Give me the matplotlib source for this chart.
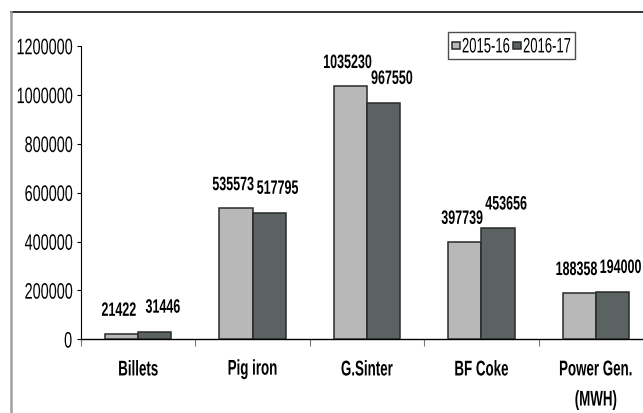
import matplotlib
matplotlib.use("Agg")
import matplotlib.pyplot as plt
import numpy as np
from matplotlib.lines import Line2D
from matplotlib.patches import Rectangle
from matplotlib.patheffects import AbstractPathEffect
from matplotlib.transforms import Affine2D
from matplotlib.container import BarContainer
from matplotlib.legend_handler import HandlerPatch, update_from_first_child

# Production figures
categories = ["Billets", "Pig iron", "G.Sinter", "BF Coke", "Power Gen.\n(MWH)"]
series_names = ["2015-16", "2016-17"]
values_2015_16 = [21422, 535573, 1035230, 397739, 188358]
values_2016_17 = [31446, 517795, 967550, 453656, 194000]
y_ticks = [0, 200000, 400000, 600000, 800000, 1000000, 1200000]

plt.rcParams["font.family"] = ["Liberation Sans", "DejaVu Sans"]


class Tall(AbstractPathEffect):
    """Stretch glyphs vertically about their own centre (condensed look)."""

    def __init__(self, sy):
        super().__init__()
        self.sy = sy

    def draw_path(self, renderer, gc, tpath, affine, rgbFace=None):
        ext = tpath.get_extents(affine)
        cy = 0.5 * (ext.y0 + ext.y1)
        t = affine + Affine2D().translate(0, -cy).scale(1, self.sy).translate(0, cy)
        renderer.draw_path(gc, tpath, t, rgbFace)


TALL = [Tall(1.55)]

W, H = 643, 413
fig = plt.figure(figsize=(W / 100, H / 100), dpi=100)

# chart frame (top and left edges visible)
fig.add_artist(Line2D([11 / W, 1.0], [1 - 12 / H, 1 - 12 / H], transform=fig.transFigure,
                      color="#111111", lw=1.2))
fig.add_artist(Line2D([11 / W, 11 / W], [0, 1 - 12 / H], transform=fig.transFigure,
                      color="#a0a0a0", lw=1.8))

left, right = 81 / W, 653 / W
bottom, top = 1 - 339.3 / H, 1 - 46 / H
ax = fig.add_axes([left, bottom, right - left, top - bottom])

x = np.arange(len(categories))
bw = 0.29
light, dark = "#b8b8b8", "#5a6361"
b1 = ax.bar(x - bw / 2, values_2015_16, bw, color=light, edgecolor="#2a2a2a", lw=1.1,
            label=series_names[0], zorder=3)
b2 = ax.bar(x + bw / 2, values_2016_17, bw, color=dark, edgecolor="#2a2a2a", lw=1.1,
            label=series_names[1], zorder=3)

for xi, v in zip(x, values_2015_16):
    ax.annotate(f"{v}", (xi - bw / 2, v), xytext=(-2, 17), textcoords="offset points",
                ha="center", va="center", fontsize=9, fontweight="bold", path_effects=TALL)
for xi, v in zip(x, values_2016_17):
    ax.annotate(f"{v}", (xi + bw / 2, v), xytext=(6, 17.5), textcoords="offset points",
                ha="center", va="center", fontsize=9, fontweight="bold", path_effects=TALL)

ax.set_xlim(-0.5, len(categories) - 0.5)
ax.set_ylim(0, 1200000)
ax.set_yticks(y_ticks)
ax.set_yticklabels([str(t) for t in y_ticks], fontsize=10.4, path_effects=TALL)
ax.tick_params(axis="y", length=3, width=0.8, pad=3.5, direction="out")

ax.set_xticks(x)
ax.set_xticklabels(categories, fontsize=9.6, fontweight="bold")
ax.tick_params(axis="x", which="major", length=0, pad=17.5)
ax.set_xticks(np.arange(-0.5, len(categories), 1.0), minor=True)
ax.tick_params(axis="x", which="minor", length=5, width=0.8, color="#777777", direction="out")
for lbl in ax.get_xticklabels():
    lbl.set_linespacing(3.1)
    lbl.set_path_effects([Tall(1.6)])

for s in ["top", "right"]:
    ax.spines[s].set_visible(False)
ax.spines["left"].set_linewidth(0.8)
ax.spines["bottom"].set_linewidth(1.0)


def square_handle(legend, orig_handle, xdescent, ydescent, width, height, fontsize):
    s = 0.6 * fontsize
    return Rectangle((-xdescent + (width - s) / 2, -ydescent + (height - s) / 2), s, s)


leg = fig.legend(handles=[b1, b2], labels=series_names, loc="upper left",
                 bbox_to_anchor=(448 / W, 1 - 32 / H), bbox_transform=fig.transFigure,
                 ncol=2, fontsize=9.4, frameon=True, fancybox=False, borderaxespad=0,
                 handlelength=0.65, handleheight=1.9, handletextpad=0.12,
                 columnspacing=0.25, borderpad=0.3,
                 handler_map={BarContainer: HandlerPatch(patch_func=square_handle,
                                                         update_func=update_from_first_child)})
leg.get_frame().set_edgecolor("#222222")
leg.get_frame().set_linewidth(1.0)
for t in leg.get_texts():
    t.set_path_effects([Tall(1.6)])

fig.savefig("out.png", dpi=100)
